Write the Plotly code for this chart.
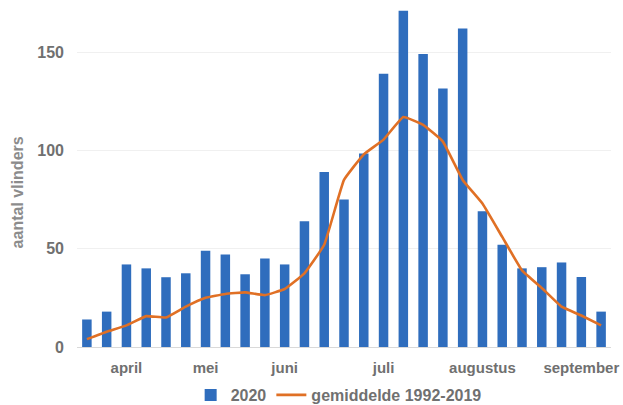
import plotly.graph_objects as go

weeks = list(range(1, 28))
counts_2020 = [14, 18, 42, 40, 35.5, 37.5, 49, 47, 37, 45, 42, 64,
               89, 75, 98.5, 139, 171, 149, 131.5, 162, 69, 52, 40, 40.6, 43, 35.6, 18]
avg_1992_2019 = [4, 7.8, 11, 15.7, 15, 20.5, 25, 27, 27.8, 26.4, 29.5, 37.5,
                 52, 85, 98, 105.5, 117, 113, 104.5, 85, 73, 56, 39, 30, 20.5, 16, 11]
tick_pos = [3, 7, 11, 16, 21, 26]
tick_text = ["april", "mei", "juni", "juli", "augustus", "september"]

FONT = "Liberation Sans, Arial, sans-serif"
TXT = "#707070"

fig = go.Figure()
fig.add_trace(go.Bar(x=weeks, y=counts_2020, name="2020",
                     marker=dict(color="#2F6DBD", line=dict(width=0)), width=0.48))
fig.add_trace(go.Scatter(x=weeks, y=avg_1992_2019, name="gemiddelde 1992-2019",
                         mode="lines", line=dict(color="#E07025", width=2.6,
                                                 shape="spline", smoothing=0.3)))

fig.update_layout(
    width=623, height=405,
    margin=dict(l=77, r=12, t=3, b=58, autoexpand=False),
    paper_bgcolor="white", plot_bgcolor="white",
    font=dict(family=FONT, size=16, color=TXT, weight="bold"),
    showlegend=True,
    legend=dict(orientation="h", x=0.49, xanchor="center", y=-0.1395, yanchor="middle",
                font=dict(size=16, color=TXT, weight="bold"), itemwidth=30,
                traceorder="normal"),
    bargap=0.5,
)
fig.update_xaxes(range=[0.5, 27.5], tickvals=tick_pos, ticktext=tick_text,
                 showgrid=False, zeroline=False, showline=False, ticks="",
                 automargin=False, ticklabelstandoff=10,
                 tickfont=dict(size=15, color=TXT, weight="bold"))
fig.update_yaxes(range=[0, 175], tickvals=[0, 50, 100, 150],
                 showgrid=True, gridcolor="#F0F0F0", gridwidth=1,
                 zeroline=True, zerolinecolor="#D9D9D9", zerolinewidth=1,
                 showline=False, ticks="", ticklabelstandoff=12, automargin=False,
                 tickfont=dict(size=16, color=TXT, weight="bold"))
fig.add_annotation(text="aantal vlinders", xref="paper", yref="paper",
                   x=-0.112, y=0.45, xanchor="center", yanchor="middle",
                   textangle=-90, showarrow=False,
                   font=dict(size=16, color="#8C8C8C", weight="bold"))

fig.write_html("out.html", config={"displayModeBar": False},
               post_script="document.body.style.margin='0';document.body.style.overflow='hidden';")
